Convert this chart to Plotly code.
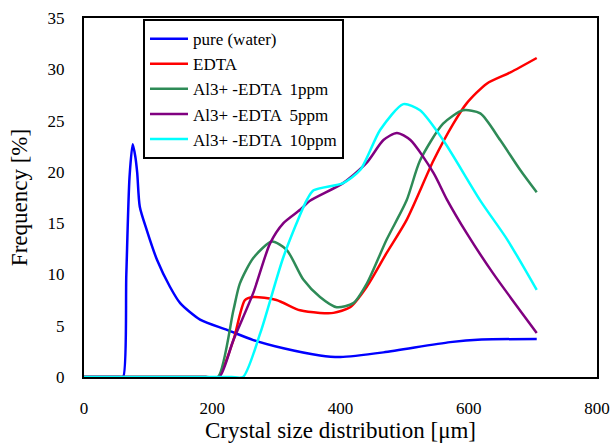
import plotly.graph_objects as go

# Data
pure_x = [0, 20, 40, 55, 61, 66, 71, 76, 80, 83, 87, 98, 114, 134, 150, 181, 223, 264, 311, 368, 400, 467, 571, 620, 706]
pure_y = [0, 0, 0, 0, 0, 10.0, 19.5, 22.7, 21.5, 19.9, 16.6, 14.3, 11.4, 8.8, 7.2, 5.6, 4.6, 3.6, 2.8, 2.1, 1.95, 2.4, 3.4, 3.65, 3.7]

edta_x = [0, 50, 100, 150, 190, 209, 233, 251, 264, 300, 337, 368, 389, 415, 441, 472, 503, 545, 576, 597, 628, 665, 706]
edta_y = [0, 0, 0, 0, 0, 0, 3.6, 7.5, 7.8, 7.5, 6.5, 6.25, 6.25, 6.8, 8.8, 12.1, 15.3, 21.1, 24.7, 26.7, 28.6, 29.7, 31.1]

al1_x = [0, 50, 100, 150, 190, 209, 233, 243, 264, 293, 316, 342, 368, 394, 420, 441, 472, 503, 524, 560, 591, 618, 649, 680, 706]
al1_y = [0, 0, 0, 0, 0, 0, 6.5, 9.1, 11.6, 13.2, 12.4, 9.5, 7.8, 6.8, 7.2, 9.1, 13.4, 17.2, 21.1, 24.7, 26.0, 25.7, 23.1, 20.2, 18.0]

al5_x = [0, 50, 100, 150, 190, 211, 233, 264, 290, 311, 337, 353, 404, 441, 467, 488, 509, 545, 566, 597, 638, 706]
al5_y = [0, 0, 0, 0, 0, 0, 3.6, 8.2, 13.0, 15.0, 16.3, 17.2, 18.9, 20.9, 23.1, 23.8, 23.1, 19.9, 17.3, 14.0, 10.1, 4.3]

al10_x = [0, 50, 100, 150, 200, 230, 248, 275, 311, 347, 358, 404, 431, 462, 498, 524, 560, 618, 660, 706]
al10_y = [0, 0, 0, 0, 0, 0, 0, 4.3, 11.7, 17.2, 18.2, 18.9, 20.2, 24.1, 26.6, 26.0, 23.1, 17.2, 13.4, 8.5]

x_ticks = [0, 200, 400, 600, 800]
y_ticks = [0, 5, 10, 15, 20, 25, 30, 35]

series = [
    ("pure (water)", pure_x, pure_y, "#0000FF"),
    ("EDTA", edta_x, edta_y, "#FF0000"),
    ("Al3+ -EDTA  1ppm", al1_x, al1_y, "#2E8B57"),
    ("Al3+ -EDTA  5ppm", al5_x, al5_y, "#800080"),
    ("Al3+ -EDTA  10ppm", al10_x, al10_y, "#00FFFF"),
]

fig = go.Figure()
for name, xs, ys, col in series:
    fig.add_trace(go.Scatter(x=xs, y=ys, name=name, mode="lines",
                             line=dict(color=col, width=2.5, shape="spline", smoothing=0.7)))

FONT = "Liberation Serif"
fig.update_layout(
    width=614, height=447,
    margin=dict(l=84, r=17, t=18, b=70),
    paper_bgcolor="white", plot_bgcolor="white",
    font=dict(family=FONT, color="black", size=17),
    showlegend=True,
    legend=dict(x=0.115, y=0.997, xanchor="left", yanchor="top",
                bordercolor="black", borderwidth=2, bgcolor="white",
                font=dict(family=FONT, size=17, color="black"),
                tracegroupgap=0, itemwidth=38),
    xaxis=dict(range=[0, 800], tickvals=x_ticks, showgrid=False, zeroline=False,
               showline=True, linecolor="black", linewidth=2, mirror=True,
               ticks="", ticklabelstandoff=15, automargin=False,
               tickfont=dict(family=FONT, size=17, color="black"),
               title=dict(text="Crystal size distribution [μm]",
                          font=dict(family=FONT, size=23, color="black"), standoff=4)),
    yaxis=dict(range=[0, 35], tickvals=y_ticks, showgrid=False, zeroline=False,
               showline=True, linecolor="black", linewidth=2, mirror=True,
               ticks="", ticklabelstandoff=14, automargin=False,
               tickfont=dict(family=FONT, size=17, color="black"),
               title=dict(text="Frequency [%]",
                          font=dict(family=FONT, size=23, color="black"), standoff=14)),
)

fig.write_html("out.html")
